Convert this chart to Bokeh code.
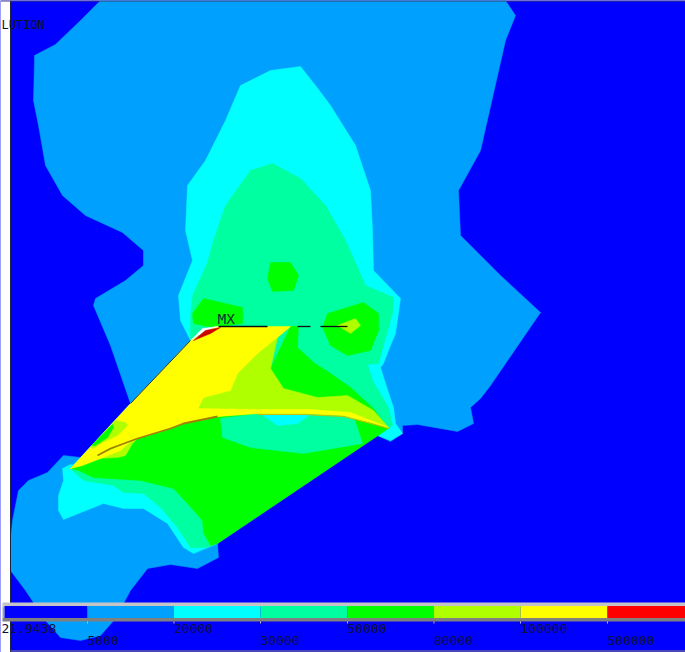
from bokeh.plotting import figure
from bokeh.embed import file_html
from bokeh.resources import INLINE
from bokeh.models import Range1d
from bokeh.core.properties import value

W, H = 685, 652
levels = ["21.9438", "5000", "20000", "30000", "50000", "80000", "100000", "500000"]
level_colors = ["#0000ff", "#00a0ff", "#00ffff", "#00ffa0", "#00ff00", "#b0ff00", "#ffff00", "#ff0000"]
level_edges = [4, 87, 173.5, 260, 347, 433.5, 520, 607, 685]

curve = [(70,468),(97,455),(110,448),(137,438),(170,428),(183,423),(217,416),(257,413),(303,413),(343,415),(370,422),(388,427)]
rev = curve[::-1]

light_blue = [(100,0),(80,20),(55,44),(34,55),(34,60),(33,100),(38,125),(45,165),(62,195),(85,215),(122,232),
    (143,250),(143,265),(125,280),(95,298),(93,305),(110,345),(130,403),(80,457),(63,455),(47,472),(28,480),(18,490),(12,520),(10,540),(10,570),
    (25,590),(45,620),(60,637),(80,640),(100,635),(115,618),(130,590),(147,568),(170,564),(197,568),(218,557),(217,543),
    (377,435),(390,441),(402,433),(402,425),(417,424),(457,431),(473,423),(470,407),(480,398),(490,385),(540,312),(500,275),(460,235),(458,190),
    (480,150),(505,40),(515,15),(505,0)]
cyan_top = [(190,340),(180,320),(178,295),(192,260),(185,230),(187,185),(205,160),(225,120),(240,85),(270,70),(300,66),
    (315,85),(330,105),(355,145),(370,190),(372,230),(373,270),(400,298),(395,333),(388,350),(383,363),(380,367),(385,383),(393,407),(395,423),(402,433),(390,440),(377,435)] + rev[1:]
cyan_low = [(70,464),(62,468),(63,480),(58,495),(58,510),(63,519),(103,503),(123,508),(143,508),(167,523),(183,547),(193,553),(217,543),(200,480)]
aqua_top = [(190,340),(190,315),(192,295),(207,262),(213,240),(225,205),(250,170),(272,163),(300,178),(325,205),(345,240),
    (365,285),(393,297),(392,313),(383,345),(378,363),(367,364),(372,380),(388,407),(392,425),(388,428)] + rev[1:]
aqua_low = [(70,468),(72,470),(83,480),(113,485),(123,492),(143,493),(160,507),(177,527),(190,547),(207,547),(217,543),(200,480)]
green_main = [(78,470),(93,477),(140,480),(173,488),(187,503),(202,520),(203,532),(210,545),(217,543),(388,428)] + rev[1:]
green_upper = [(290,326),(298,326),(297,347),(313,362),(330,373),(350,387),(373,408),(385,425),(388,427),(283,400),(270,368)]
green_left = [(192,313),(203,298),(242,307),(242,323),(220,326),(207,326),(193,323)]
green_right = [(322,327),(327,313),(363,302),(378,313),(378,330),(370,350),(347,355),(330,345)]
green_center = [(270,262),(290,262),(298,275),(293,290),(272,291),(267,278)]
aqua_patch = [(220,418),(222,437),(250,447),(303,453),(362,443),(353,416),(303,413),(257,413)]
cyan_patch = [(260,413),(277,425),(297,423),(310,414)]
yg_upper = [(290,326),(277,337),(270,368),(283,388),(317,397),(347,395),(373,410),(388,427)] + rev[1:7] + [(198,410),(203,397),(230,375),(240,360)]
yg_dot = [(337,325),(355,318),(360,325),(350,333)]
yg_low = [(95,458),(117,457),(125,455),(132,443),(137,438),(97,455)]
yellow = [(70,468),(130,403),(190,340),(215,326),(290,326),(257,353),(237,373),(230,390),(203,397),(198,408),
    (260,409),(310,409),(350,412),(388,427)] + rev[1:]
yellow_low = [(70,468),(97,455),(130,441),(120,450),(95,460),(82,465)]
yg_spot = [(115,420),(125,422),(127,425),(117,435),(100,443),(93,448),(90,447)]
green_spot = [(112,424),(113,427),(107,437),(95,445),(91,445)]
red = [(193,340),(205,330),(220,327),(210,333)]
white = [(190,340),(202,328),(218,326),(205,330)]

layers = [
    (light_blue, "#00a0ff"), (cyan_top, "#00ffff"), (cyan_low, "#00ffff"), (aqua_top, "#00ffa0"), (aqua_low, "#00ffa0"),
    (green_main, "#00ff00"), (green_upper, "#00ff00"), (green_left, "#00ff00"), (green_right, "#00ff00"), (green_center, "#00ff00"),
    (aqua_patch, "#00ffa0"), (cyan_patch, "#00ffff"), (yg_upper, "#b0ff00"), (yg_dot, "#b0ff00"), (yg_low, "#b0ff00"),
    (yellow, "#ffff00"), (yellow_low, "#ffff00"), (yg_spot, "#b0ff00"), (green_spot, "#00ff00"), (white, "#ffffff"), (red, "#d00000"),
]

p = figure(width=W, height=H, output_backend="svg", toolbar_location=None, x_range=Range1d(0, W), y_range=Range1d(H, 0),
           min_border=0, outline_line_color=None, background_fill_color="#0000ff", border_fill_color="#0000ff")
p.xaxis.visible = False
p.yaxis.visible = False
p.grid.visible = False

for poly, col in layers:
    p.patch([a for a, b in poly], [b for a, b in poly], fill_color=col, line_color=col, line_width=0.5)

# edges
edge_x = [[218,267],[297,310],[320,347]]
edge_y = [[326,326],[326,326],[326,326]]
p.multi_line(edge_x, edge_y, line_color="#101010", line_width=1.3)
p.line([130,190],[403,340], line_color="#303030", line_width=1)
p.line([a for a,b in curve[1:7]], [b for a,b in curve[1:7]], line_color="#a08000", line_width=1.8)
p.line([a for a,b in curve[7:]], [b+1 for a,b in curve[7:]], line_color="#c8c000", line_width=1)

# frame
p.quad(left=0, right=10, top=0, bottom=H, fill_color="#ffffff", line_color=None)
p.line([10,10],[0,H], line_color="#202040", line_width=1)
p.line([0,W],[0.5,0.5], line_color="#404060", line_width=1)
p.line([10,W],[650.5,650.5], line_color="#6060a0", line_width=1.5)

# colour bar
p.quad(left=2, right=W, top=602, bottom=606, fill_color="#c4c4c8", line_color=None)
p.quad(left=2, right=W, top=617, bottom=621, fill_color="#808080", line_color=None)
p.quad(left=2, right=4, top=606, bottom=617, fill_color="#a0a0a0", line_color=None)
p.quad(left=level_edges[:-1], right=level_edges[1:], top=[605.5]*8, bottom=[617.5]*8, fill_color=level_colors, line_color=None)
p.segment(x0=level_edges[1:-1], y0=[621]*7, x1=level_edges[1:-1], y1=[623]*7, line_color="#c0c0c0", line_width=1)

label_x = [1] + level_edges[1:-1]
label_y = [628 if i % 2 == 0 else 640 for i in range(8)]
p.text(label_x, label_y, text=levels, text_font=value("DejaVu Sans Mono"), text_font_size="13px",
       text_color="#101038", text_align="left", text_baseline="middle")
p.text([1], [24], text=["LUTION"], text_font=value("DejaVu Sans Mono"), text_font_size="12px", text_color="#101028",
       text_align="left", text_baseline="middle")
p.text([217], [318], text=["MX"], text_font=value("DejaVu Sans Mono"), text_font_size="14.5px", text_color="#103030",
       text_align="left", text_baseline="middle")

open("out.html", "w").write(file_html(p, INLINE))
